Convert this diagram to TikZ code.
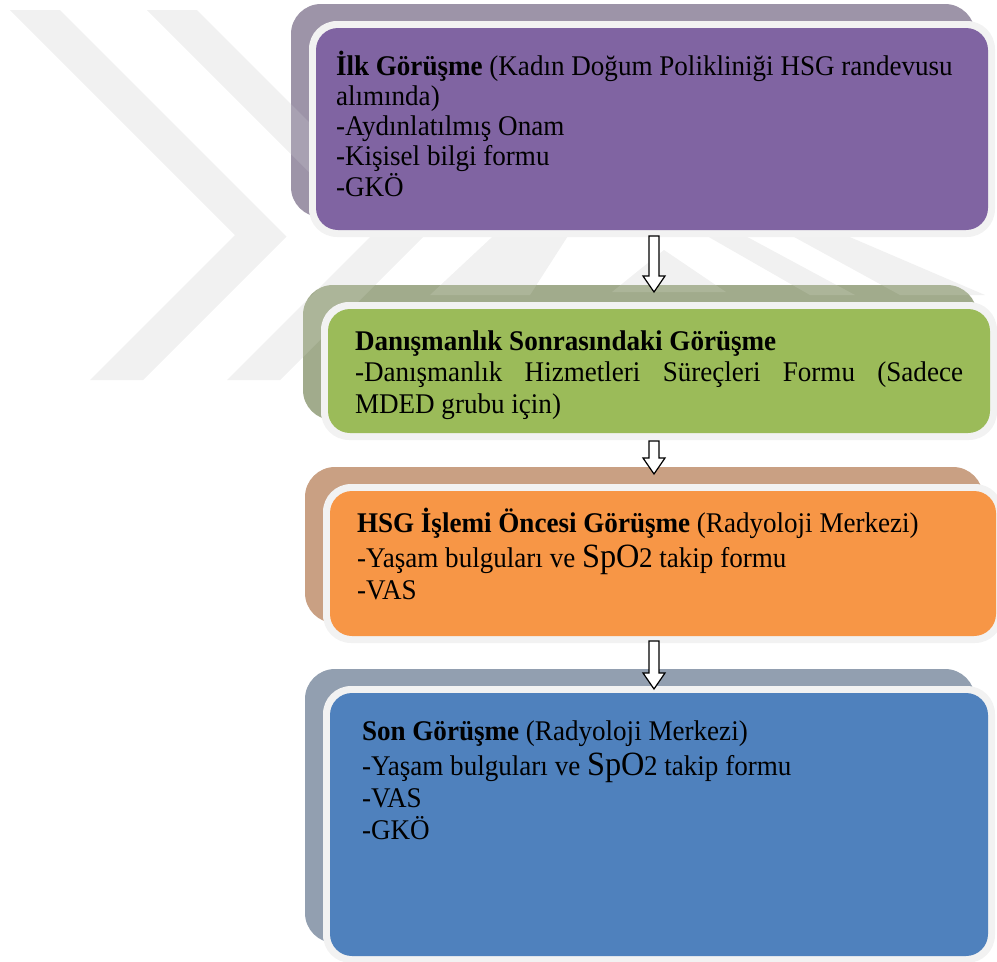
\documentclass[tikz,border=0pt]{standalone}
\usepackage{fontspec}
\setmainfont{Liberation Serif}[FakeStretch=0.95]
\usetikzlibrary{calc}

\definecolor{rimgray}{HTML}{F2F2F2}
\definecolor{markgray}{HTML}{F0F0F0}
\definecolor{purplefill}{HTML}{8064A2}
\definecolor{purpleback}{HTML}{9D94A8}
\definecolor{greenfill}{HTML}{9BBB59}
\definecolor{greenback}{HTML}{A1AB8C}
\definecolor{orangefill}{HTML}{F79646}
\definecolor{orangeback}{HTML}{C9A083}
\definecolor{bluefill}{HTML}{4F81BD}
\definecolor{blueback}{HTML}{929FB0}

% shadow plate behind a stage: x1, y1, x2, y2 of the face, colour
\newcommand\stageback[5]{%
  \fill[#5, rounded corners=30pt] (#1-25,#2-24) rectangle (#3-13,#4-13);}

% face of a stage: name, x1, y1, x2, y2, fill colour
\newcommand\stageface[6]{%
  \fill[rimgray, rounded corners=28pt] (#2-7,#3-7) rectangle (#4+7,#5+7);
  \node[stagefill, fill=#6, minimum width=#4-#2, minimum height=#5-#3] (#1) at (#2,#3) {};}

% hollow block arrow between two named points
\newcommand\flowarrow[2]{%
  \draw[arrowline] let \p1=(#1), \p2=(#2) in
    (\x1-5pt,\y1) -- (\x1+5pt,\y1) -- (\x1+5pt,\y2+16pt) -- (\x1+11pt,\y2+16pt)
    -- (\x1,\y2) -- (\x1-11pt,\y2+16pt) -- (\x1-5pt,\y2+16pt) -- cycle;}

\newcommand\spo{{\fontsize{34}{34}\selectfont SpO}\kern-0.5pt 2}
\newcommand\stagepar[3]{\parbox[t]{#1}{\fontsize{28.5}{#2}\selectfont
  \lineskiplimit=-20pt\raggedright #3}}

% background mark: chevrons and bands
\newcommand\markshapes{%
  (10,10) -- (60,10) -- (286.5,236.5) -- (143,380) -- (90,380) -- (235,235) -- cycle
  (147,10) -- (197,10) -- (423.5,236.5) -- (280,380) -- (227,380) -- (372,235) -- cycle
  (430,295) -- (530,295) -- (575,225) -- (505,225) -- cycle
  (664,250) -- (612,292) -- (726,292) -- cycle
  (700,232) -- (738,232) -- (855,295) -- (810,295) -- cycle
  (785,232) -- (838,232) -- (985,295) -- (900,295) -- cycle}

\tikzset{
  stagefill/.style={inner sep=0pt, outer sep=0pt, rounded corners=22pt, anchor=north west},
  arrowline/.style={draw=black, fill=white, line width=1.2pt, line join=miter},
  stagetext/.style={inner sep=0pt, outer sep=0pt, anchor=base west, text=black}
}

\begin{document}
\begin{tikzpicture}[x=1pt, y=-1pt]
  \useasboundingbox (0,0) rectangle (997,962);
  \clip (0,0) rectangle (997,962);

  % faint mark on the page
  \fill[markgray] \markshapes;

  % shadow plates
  \stageback{316}{28}{988}{230}{purpleback}
  \stageback{328}{309}{990}{433}{greenback}
  \stageback{330}{491}{996}{636}{orangeback}
  \stageback{330}{693}{988}{956}{blueback}

  % the mark shows lightly through the plates
  \fill[white, opacity=0.12] \markshapes;

  % stage faces
  \stageface{ilk}{316}{28}{988}{230}{purplefill}
  \stageface{dan}{328}{309}{990}{433}{greenfill}
  \stageface{hsg}{330}{491}{996}{636}{orangefill}
  \stageface{son}{330}{693}{988}{956}{bluefill}

  % arrow end points
  \coordinate (axis) at (654,0);
  \coordinate (a1s) at ($(ilk.south -| axis)+(0,6)$);
  \coordinate (a1e) at ($(dan.north -| axis)+(0,-17)$);
  \coordinate (a2s) at ($(dan.south -| axis)+(0,8)$);
  \coordinate (a2e) at ($(hsg.north -| axis)+(0,-17)$);
  \coordinate (a3s) at ($(hsg.south -| axis)+(0,5)$);
  \coordinate (a3e) at ($(son.north -| axis)+(0,-4)$);
  \flowarrow{a1s}{a1e}
  \flowarrow{a2s}{a2e}
  \flowarrow{a3s}{a3e}

  % texts
  \node[stagetext] (ilktxt) at (336,75) {\stagepar{640pt}{30.3pt}{%
    \textbf{İlk Görüşme} (Kadın Doğum Polikliniği HSG randevusu\\
    alımında)\\
    -Aydınlatılmış Onam\\
    -Kişisel bilgi formu\\
    -GKÖ}};
  \node[stagetext] (dantxt) at (355,350) {\stagepar{620pt}{31.5pt}{%
    \textbf{Danışmanlık Sonrasındaki Görüşme}\\
    \makebox[608pt][s]{-Danışmanlık Hizmetleri Süreçleri Formu (Sadece}\\
    MDED grubu için)}};
  \node[stagetext] (hsgtxt) at (357,532) {\stagepar{620pt}{32pt}{%
    \textbf{HSG İşlemi Öncesi Görüşme} (Radyoloji Merkezi)\\[3pt]
    -Yaşam bulguları ve \spo{} takip formu\\
    -VAS}};
  \node[stagetext] (sontxt) at (362,740) {\stagepar{600pt}{32pt}{%
    \textbf{Son Görüşme} (Radyoloji Merkezi)\\[3pt]
    -Yaşam bulguları ve \spo{} takip formu\\
    -VAS\\
    -GKÖ}};
\end{tikzpicture}
\end{document}
